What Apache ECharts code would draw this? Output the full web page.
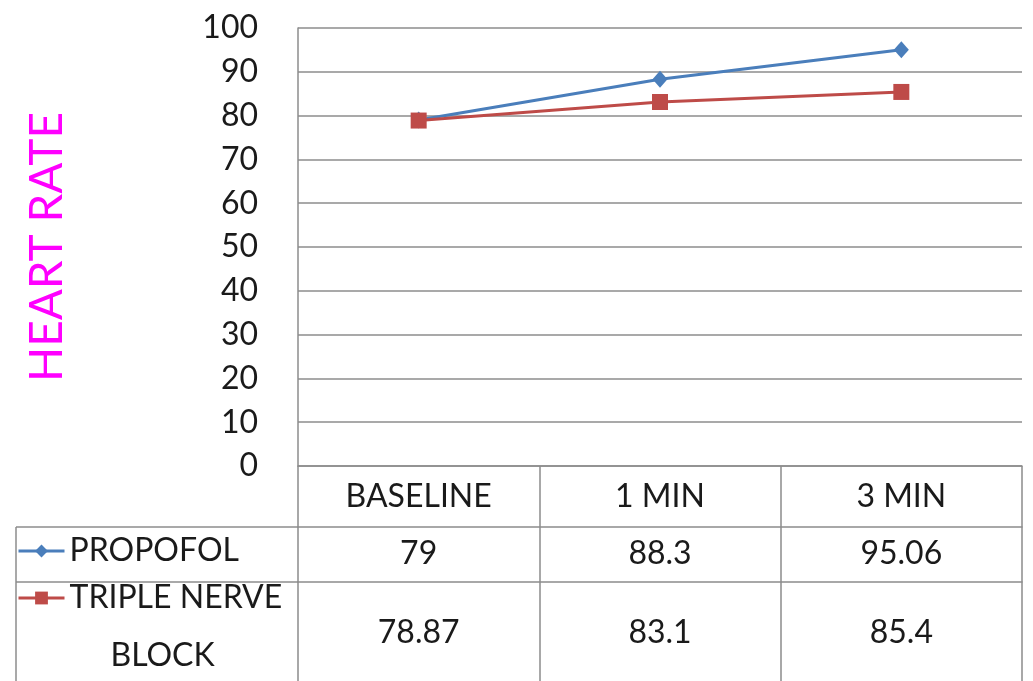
<!DOCTYPE html>
<html>
<head>
<meta charset="utf-8">
<script src="https://cdn.jsdelivr.net/npm/echarts@6/dist/echarts.min.js"></script>
<style>
  html, body { margin: 0; padding: 0; background: #fff; }
  #chart { width: 1033px; height: 681px; }
</style>
</head>
<body>
<div id="chart"></div>
<script>
// data
const categories = ['BASELINE', '1 MIN', '3 MIN'];
const propofol = [79, 88.3, 95.06];
const tripleNerve = [78.87, 83.1, 85.4];
const seriesNames = ['PROPOFOL', 'TRIPLE NERVE BLOCK'];
const yTicks = { min: 0, max: 100, interval: 10 };

const font = 'Lato, "Open Sans", sans-serif';
const gridColor = '#8c8c8c';
const blue = '#4a7ebb';
const red = '#be4b48';

const chart = echarts.init(document.getElementById('chart'));

// small helper for the rows of the data table under the axis
function tableAxis(values, offset, margin) {
  return {
    type: 'category',
    position: 'bottom',
    offset: offset,
    data: values.map(v => String(v)),
    axisLine: { show: true, lineStyle: { color: gridColor, width: 1.5 } },
    axisTick: { show: false },
    axisLabel: {
      margin: margin,
      verticalAlign: 'middle',
      color: '#1a1a1a',
      fontFamily: font,
      fontSize: 32
    }
  };
}

const option = {
  backgroundColor: '#fff',
  animation: false,
  grid: { left: 298, right: 11, top: 28, bottom: 215 },
  xAxis: [
    {
      type: 'category',
      data: categories,
      axisLine: { lineStyle: { color: gridColor, width: 1.5 } },
      // ticks stretched down to make the table's column lines
      axisTick: { show: true, length: 230, lineStyle: { color: gridColor, width: 1.5 } },
      axisLabel: {
        margin: 31,
        verticalAlign: 'middle',
        color: '#1a1a1a',
        fontFamily: font,
        fontSize: 32
      }
    },
    tableAxis(propofol, 61, 27),
    tableAxis(tripleNerve, 116, 51)
  ],
  yAxis: {
    type: 'value',
    min: yTicks.min,
    max: yTicks.max,
    interval: yTicks.interval,
    name: 'HEART RATE',
    nameLocation: 'middle',
    nameRotate: 90,
    nameGap: 228,
    nameTextStyle: { color: '#ff00ff', fontFamily: font, fontSize: 46 },
    axisLine: { show: true, lineStyle: { color: gridColor, width: 1.5 } },
    axisTick: { show: false },
    axisLabel: { margin: 40, color: '#1a1a1a', fontFamily: font, fontSize: 32 },
    splitLine: { lineStyle: { color: gridColor, width: 1.5 } }
  },
  legend: [
    {
      data: [seriesNames[0]],
      left: 17,
      top: 535,
      padding: 0,
      itemWidth: 46,
      itemHeight: 16,
      itemStyle: { borderWidth: 0 },
      lineStyle: { width: 3 },
      textStyle: { color: '#1a1a1a', fontFamily: font, fontSize: 32 }
    },
    {
      data: [seriesNames[1]],
      left: 17,
      top: 511,
      padding: 0,
      itemWidth: 46,
      itemHeight: 16,
      itemStyle: { borderWidth: 0 },
      lineStyle: { width: 3 },
      // blank first line keeps the icon level with "TRIPLE NERVE"
      formatter: () => ' \nTRIPLE NERVE\n     BLOCK',
      textStyle: {
        color: '#1a1a1a',
        fontFamily: font,
        fontSize: 32,
        lineHeight: 58
      }
    }
  ],
  graphic: [
    // borders of the legend column of the table
    { type: 'line', shape: { x1: 16, y1: 527, x2: 298, y2: 527 }, style: { stroke: gridColor, lineWidth: 1.5 } },
    { type: 'line', shape: { x1: 16, y1: 582, x2: 298, y2: 582 }, style: { stroke: gridColor, lineWidth: 1.5 } },
    { type: 'line', shape: { x1: 16, y1: 527, x2: 16, y2: 700 }, style: { stroke: gridColor, lineWidth: 1.5 } }
  ],
  series: [
    {
      name: seriesNames[0],
      type: 'line',
      data: propofol,
      symbol: 'diamond',
      symbolSize: [15, 17],
      lineStyle: { color: blue, width: 3 },
      itemStyle: { color: blue }
    },
    {
      name: seriesNames[1],
      type: 'line',
      data: tripleNerve,
      symbol: 'rect',
      symbolSize: 16,
      lineStyle: { color: red, width: 3 },
      itemStyle: { color: red }
    }
  ]
};

chart.setOption(option);
</script>
</body>
</html>
